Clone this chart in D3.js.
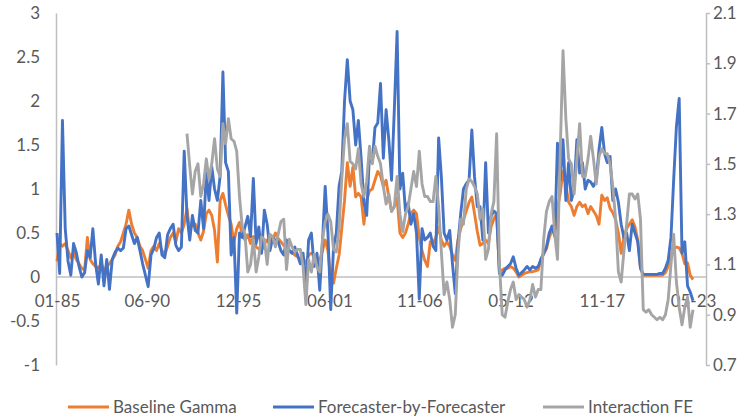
<!DOCTYPE html>
<html lang="en">
<head>
<meta charset="UTF-8">
<title>Gamma estimates</title>
<script src="https://d3js.org/d3.v7.min.js"></script>
<style>
  body { margin: 0; background: #fff; }
  svg { display: block; font-family: Lato, "Open Sans", sans-serif; }
  .tick text, .legend text { fill: #595959; font-size: 17px; }
  .line { fill: none; stroke-width: 2.9; stroke-linejoin: round; }
</style>
</head>
<body>
<svg width="748" height="420"></svg>
<script>
// bimonthly observations, Jan 1985 to May 2023
const startYear = 1985, stepMonths = 2;

const baseline = [
  0.18, 0.38, 0.35, 0.38, 0.3, 0.22, 0.28, 0.2, 0.15, 0.1,
  0.08, 0.45, 0.2, 0.15, 0.12, 0.1, 0.15, 0.08, 0.12, 0.15,
  0.2, 0.25, 0.35, 0.4, 0.5, 0.6, 0.76, 0.6, 0.5, 0.45,
  0.35, 0.3, 0.2, 0.1, 0.3, 0.35, 0.3, 0.38, 0.3, 0.25,
  0.35, 0.45, 0.5, 0.4, 0.55, 0.5, 0.6,
  0.78, 0.5, 0.62, 0.6, 0.5, 0.42, 0.52, 0.72, 0.76, 0.7,
  0.53, 0.17, 0.87, 0.95, 0.82, 0.7, 0.6, 0.4, 0.55, 0.62,
  0.48, 0.42, 0.48, 0.38, 0.46, 0.34, 0.32, 0.3, 0.38, 0.42,
  0.38, 0.42, 0.5, 0.44, 0.4, 0.36, 0.34, 0.3, 0.28, 0.25,
  0.23, 0.2, 0.22, 0.15, 0.25, 0.27, 0.25, 0.22, 0.19, 0.3,
  0.42, 0.3, -0.03, -0.07, 0.1, 0.25, 0.55, 0.87, 1.3, 1.03,
  1.25, 0.91, 0.95, 0.91, 0.6, 0.87, 0.98, 1.0, 1.1, 1.2,
  1.15, 1.03, 1.1, 0.9, 0.75, 0.8, 0.9, 0.5, 0.45, 0.5,
  0.6, 0.72, 0.76, 0.72, 0.45, 0.3, 0.19, 0.12, 0.4, 0.38,
  0.45, 0.57, 0.42, 0.35, 0.4, 0.35, 0.25, 0.19, 0.42, 0.55,
  0.65, 0.75, 0.85, 0.91, 0.72, 0.52, 0.36, 0.38, 0.42, 0.38,
  0.57, 0.66, 0.72, 0.04, 0.08, 0.1, 0.1, 0.12, 0.1, 0.06,
  0.0, 0.02, 0.04, 0.05, 0.06, 0.06, 0.07, 0.08, 0.2, 0.26,
  0.32, 0.45, 0.53, 0.5, 0.78, 0.95, 1.2, 1.05, 0.85, 0.8,
  0.7, 0.8, 0.85, 0.8, 0.82, 0.72, 0.8, 0.75, 0.7, 0.6,
  0.93, 0.87, 0.9, 0.78, 0.73, 0.65, 0.5, 0.27, 0.45, 0.55,
  0.6, 0.65, 0.57, 0.42, 0.1, 0.02, 0.02, 0.02, 0.02, 0.02,
  0.02, 0.02, 0.02, 0.05, 0.12, 0.25, 0.32, 0.34, 0.33, 0.27,
  0.15, 0.16, 0.02, -0.03
];

const forecaster = [
  0.5, 0.04, 1.78, 0.55, 0.18, 0.02, 0.38, 0.28, 0.12, 0.0,
  0.05, 0.3, 0.22, 0.55, 0.15, -0.08, 0.25, -0.1, 0.2, -0.14,
  0.2, 0.28, 0.33, 0.3, 0.33, 0.55, 0.58, 0.48, 0.38, 0.45,
  0.3, 0.15, 0.02, -0.11, 0.25, 0.32, 0.45, 0.5, 0.25, 0.22,
  0.48, 0.55, 0.6, 0.36, 0.3, 0.34, 1.43,
  0.7, 0.42, 0.7, 0.53, 0.5, 0.87, 0.55, 1.18, 0.87, 1.25,
  1.0, 0.87, 1.15, 2.33, 1.3, 1.2, 0.25, 0.45, -0.41, 0.5,
  0.45, 0.57, 0.69, 0.46, 1.12, 0.38, 0.57, 0.27, 0.76, 0.6,
  0.3, 0.45, 0.42, 0.4, 0.3, 0.25, 0.42, 0.3, 0.27, 0.34,
  0.25, 0.15, 0.27, -0.15, 0.42, 0.5, 0.12, 0.27, -0.15, 0.4,
  1.03, 0.5, -0.37, 0.34, 0.5, 1.03, 1.2, 2.0, 2.47, 2.0,
  1.9, 1.5, 1.78, 1.35, 0.85, 0.7, 1.4, 1.3, 1.7, 1.75,
  2.2, 1.35, 1.9, 1.55, 1.1, 1.9, 2.79, 1.0, 1.18, 0.75,
  0.84, 0.6, 0.72, 0.5, -0.25, 0.55, 0.42, 0.45, 0.5, 0.35,
  0.3, 1.58, 1.14, 0.5, 0.42, 0.53, 0.15, -0.19, 0.38, 0.72,
  1.0, 1.06, 1.1, 1.67, 1.14, 0.8, 0.8, 0.42, 1.3, 0.5,
  0.69, 0.75, 0.72, 0.04, 0.02, 0.08, 0.12, 0.15, 0.23, 0.1,
  0.02, 0.05, 0.08, 0.12, 0.08, 0.12, 0.1, 0.12, 0.2, 0.27,
  0.34, 0.5, 0.58, 0.46, 1.52, 1.1, 1.56, 0.87, 1.3, 0.87,
  1.0, 1.56, 1.18, 1.3, 1.0, 1.1, 1.08, 1.03, 1.1, 1.45,
  1.7, 1.4, 1.3, 1.37, 0.87, 1.0, 0.85, 0.6, 0.45, 0.5,
  0.3, 0.6, 0.5, 0.4, 0.1, 0.03, 0.03, 0.03, 0.03, 0.03,
  0.03, 0.04, 0.04, 0.1, 0.19, 0.45, 1.1, 1.71, 2.03, 0.27,
  0.4, -0.1, -0.17, -0.27
];

// right axis; series starts mid-1993
const interaction = [
  null, null, null, null, null, null, null, null, null, null,
  null, null, null, null, null, null, null, null, null, null,
  null, null, null, null, null, null, null, null, null, null,
  null, null, null, null, null, null, null, null, null, null,
  null, null, null, null, null, null, null,
  1.62, 1.49, 1.38, 1.47, 1.5, 1.37, 1.42, 1.52, 1.44, 1.5,
  1.6, 1.48, 1.45, 1.66, 1.58, 1.68, 1.6, 1.59, 1.55, 1.37,
  1.25, 1.22, 1.07, 1.1, 1.2, 1.07, 1.13, 1.21, 1.2, 1.1,
  1.22, 1.21, 1.17, 1.22, 1.27, 1.28, 1.08, 1.2, 1.17, 1.15,
  1.16, 1.16, 1.09, 0.94, 1.12, 1.07, 1.14, 1.09, 1.07, 1.2,
  1.27, 1.3, 1.27, 1.16, 1.15, 1.25, 1.44, 1.6, 1.66, 1.51,
  1.5, 1.48, 1.56, 1.42, 1.37, 1.43, 1.57, 1.5, 1.57, 1.53,
  1.5, 1.41, 1.34, 1.38, 1.31, 1.33, 1.45, 1.3, 1.23, 1.3,
  1.33, 1.4, 1.47, 1.41, 1.55, 1.42, 1.37, 1.37, 1.35, 1.35,
  1.45, 1.33, 1.15, 0.98, 1.03, 0.96, 0.85, 0.9, 1.14, 1.28,
  1.26, 1.4, 1.44, 1.43, 1.41, 1.38, 1.28, 1.32, 1.12, 1.16,
  1.3, 1.35, 1.62, 1.1, 0.9, 0.89, 0.95, 1.0, 1.03, 0.96,
  0.98, 0.97, 0.96, 0.93, 0.96, 1.02, 0.97, 1.0, 1.0, 1.2,
  1.31, 1.35, 1.37, 1.22, 1.12, 1.55, 1.95, 1.68, 1.52, 1.5,
  1.38, 1.52, 1.66, 1.45, 1.45, 1.52, 1.61, 1.52, 1.42, 1.53,
  1.56, 1.54, 1.54, 1.5, 1.41, 1.28, 1.07, 1.03, 1.15, 1.26,
  1.38, 1.38, 1.36, 1.38, 1.28, 0.92, 0.91, 0.92, 0.9, 0.89,
  0.88, 0.89, 0.88, 0.9, 0.96, 1.1, 1.22, 1.03, 0.93, 0.86,
  0.93, 0.97, 0.85, 0.92
];

const xLabels = ["01-85", "06-90", "12-95", "06-01", "11-06", "05-12", "11-17", "05-23"];
const leftTicks = [-1, -0.5, 0, 0.5, 1, 1.5, 2, 2.5, 3];
const rightTicks = [0.7, 0.9, 1.1, 1.3, 1.5, 1.7, 1.9, 2.1];
const seriesNames = ["Baseline Gamma", "Forecaster-by-Forecaster", "Interaction FE"];

const svg = d3.select("svg");
const axisColor = "#BFBFBF";

const months = baseline.map((d, i) => new Date(startYear, i * stepMonths, 1));
const parseLabel = d3.timeParse("%m-%y");

const x = d3.scaleTime()
    .domain([months[0], months[months.length - 1]])
    .range([57, 693]);
const yL = d3.scaleLinear().domain([-1, 3]).range([365, 13]);
const yR = d3.scaleLinear().domain([0.7, 2.1]).range([365, 13]);

// left axis
const gl = svg.append("g")
    .attr("transform", "translate(56,0)")
    .call(d3.axisLeft(yL).tickValues(leftTicks).tickSize(0).tickPadding(16)
        .tickFormat(d => String(d)));
gl.select(".domain").attr("stroke", axisColor).attr("stroke-width", 1.5);

// right axis
const gr = svg.append("g")
    .attr("transform", "translate(706,0)")
    .call(d3.axisRight(yR).tickValues(rightTicks).tickSize(4).tickSizeOuter(0).tickPadding(3)
        .tickFormat(d => d.toFixed(1)));
gr.select(".domain").attr("stroke", axisColor).attr("stroke-width", 1.5);
gr.selectAll(".tick line").attr("stroke", axisColor).attr("stroke-width", 1.5);

// zero line + date labels
svg.append("line")
    .attr("x1", 56).attr("x2", 706)
    .attr("y1", yL(0)).attr("y2", yL(0))
    .attr("stroke", axisColor).attr("stroke-width", 1.5);

const gx = svg.append("g")
    .attr("transform", `translate(0,${yL(0)})`)
    .call(d3.axisBottom(x).tickValues(xLabels.map(parseLabel)).tickSize(0).tickPadding(18)
        .tickFormat(d3.timeFormat("%m-%y")));
gx.select(".domain").remove();

svg.selectAll(".tick text").style("font-family", "Lato, 'Open Sans', sans-serif");

const series = [
  { name: seriesNames[0], values: baseline, y: yL, color: "#ED7D31" },
  { name: seriesNames[1], values: forecaster, y: yL, color: "#4472C4" },
  { name: seriesNames[2], values: interaction, y: yR, color: "#A5A5A5" }
];

series.forEach(s => {
  const line = d3.line()
      .defined(d => d[1] != null)
      .x(d => x(d[0]))
      .y(d => s.y(d[1]));
  svg.append("path")
      .datum(months.map((m, i) => [m, s.values[i]]))
      .attr("class", "line")
      .attr("stroke", s.color)
      .attr("d", line);
});

// legend
const legendX = [68, 273, 543];
const legend = svg.append("g").attr("class", "legend");
series.forEach((s, i) => {
  const g = legend.append("g").attr("transform", `translate(${legendX[i]},407)`);
  g.append("line").attr("x1", 0).attr("x2", 41)
      .attr("stroke", s.color).attr("stroke-width", 3);
  g.append("text").attr("x", 45).attr("dy", "0.35em").text(s.name);
});
</script>
</body>
</html>
